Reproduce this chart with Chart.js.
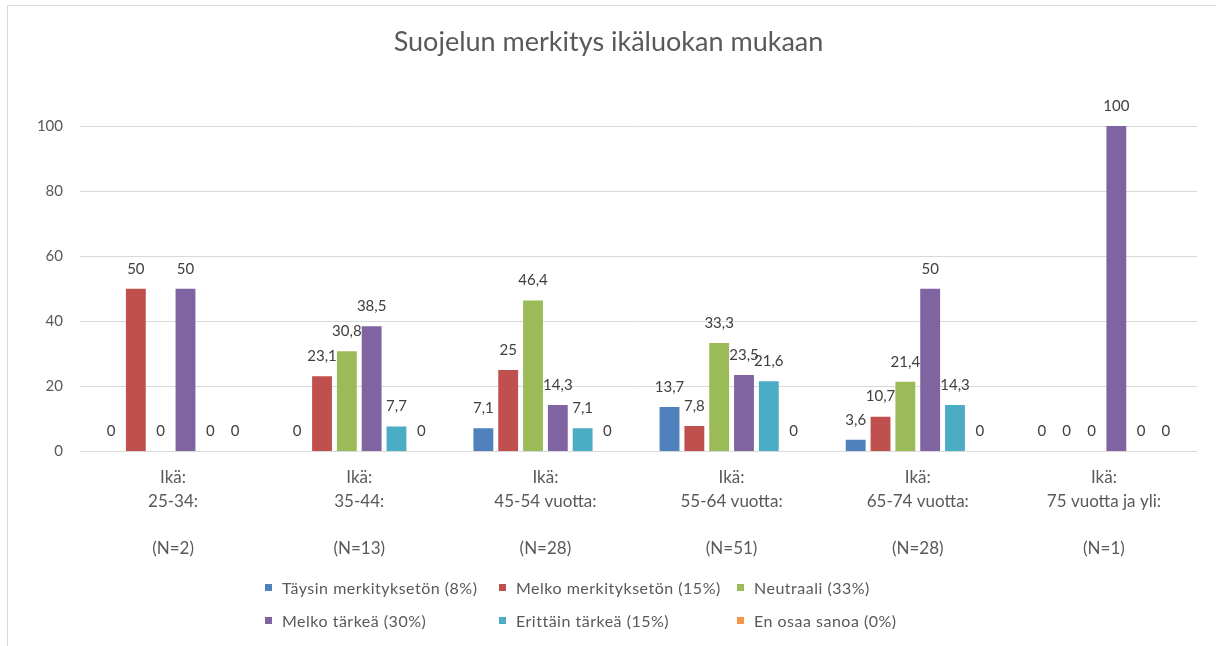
<!DOCTYPE html>
<html>
<head>
<meta charset="utf-8">
<script src="https://cdn.jsdelivr.net/npm/chart.js@4.4.1/dist/chart.umd.min.js"></script>
<style>
  body { margin: 0; background: #fff; }
  #wrap { position: relative; width: 1216px; height: 646px; overflow: hidden; }
  #frame { position: absolute; left: 7px; top: 5px; width: 1220px; height: 660px;
           border-left: 1px solid #d9d9d9; border-top: 1px solid #d9d9d9; }
  #legend { position: absolute; left: 265px; top: 576px; display: grid;
            grid-template-columns: 234px 238px auto; row-gap: 11px;
            font: 16px Lato, sans-serif; letter-spacing: 0.5px; color: #595959; }
  #legend .item { display: flex; align-items: center; height: 22px; white-space: nowrap; }
  #legend .box { width: 7px; height: 7px; margin-right: 10px; }
</style>
</head>
<body>
<div id="wrap">
  <div id="frame"></div>
  <canvas id="myChart" width="1216" height="646"></canvas>
  <div id="legend"></div>
</div>
<script>
// data
const categories = [
  ["Ikä:", "25-34:", "", "(N=2)"],
  ["Ikä:", "35-44:", "", "(N=13)"],
  ["Ikä:", "45-54 vuotta:", "", "(N=28)"],
  ["Ikä:", "55-64 vuotta:", "", "(N=51)"],
  ["Ikä:", "65-74 vuotta:", "", "(N=28)"],
  ["Ikä:", "75 vuotta ja yli:", "", "(N=1)"]
];
const seriesNames = [
  "Täysin merkityksetön (8%)",
  "Melko merkityksetön (15%)",
  "Neutraali (33%)",
  "Melko tärkeä (30%)",
  "Erittäin tärkeä (15%)",
  "En osaa sanoa (0%)"
];
const taysinMerkitykseton = [0, 0, 7.1, 13.7, 3.6, 0];
const melkoMerkitykseton = [50, 23.1, 25, 7.8, 10.7, 0];
const neutraali = [0, 30.8, 46.4, 33.3, 21.4, 0];
const melkoTarkea = [50, 38.5, 14.3, 23.5, 50, 100];
const erittainTarkea = [0, 7.7, 7.1, 21.6, 14.3, 0];
const enOsaaSanoa = [0, 0, 0, 0, 0, 0];
const yTicks = [0, 20, 40, 60, 80, 100];

const colors = ["#4f81bd", "#c0504d", "#9bbb59", "#8064a2", "#4bacc6", "#f79646"];
const seriesValues = [taysinMerkitykseton, melkoMerkitykseton, neutraali, melkoTarkea, erittainTarkea, enOsaaSanoa];

// value labels above bars, finnish decimal comma
const valueLabels = {
  id: "valueLabels",
  afterDatasetsDraw(chart) {
    const ctx = chart.ctx;
    ctx.save();
    ctx.font = "15px Lato, sans-serif";
    ctx.fillStyle = "#404040";
    ctx.textAlign = "center";
    ctx.textBaseline = "middle";
    chart.data.datasets.forEach((ds, i) => {
      chart.getDatasetMeta(i).data.forEach((bar, j) => {
        const txt = String(ds.data[j]).replace(".", ",");
        ctx.fillText(txt, bar.x, bar.y - 20);
      });
    });
    ctx.restore();
  }
};

const ctx = document.getElementById("myChart");

const chart = new Chart(ctx, {
  type: "bar",
  data: {
    labels: categories,
    datasets: seriesNames.map((name, i) => ({
      label: name,
      data: seriesValues[i],
      backgroundColor: colors[i],
      categoryPercentage: 0.8,
      barPercentage: 0.8
    }))
  },
  options: {
    responsive: false,
    animation: false,
    layout: { padding: { top: 26, left: 20, right: 19, bottom: 79 } },
    plugins: {
      legend: { display: false },
      tooltip: { enabled: false },
      title: {
        display: true,
        text: "Suojelun merkitys ikäluokan mukaan",
        color: "#595959",
        font: { family: "Lato", size: 27, weight: "normal" },
        padding: { top: 0, bottom: 67.6 }
      }
    },
    scales: {
      x: {
        grid: { display: false },
        border: { display: false },
        ticks: {
          color: "#595959",
          padding: 6.5,
          autoSkip: false,
          maxRotation: 0,
          font: { family: "Lato", size: 17, lineHeight: 1.39 }
        }
      },
      y: {
        min: 0,
        max: 100,
        afterFit(scale) { scale.width = 60; },
        afterBuildTicks(scale) { scale.ticks = yTicks.map(v => ({ value: v })); },
        grid: { color: "#d9d9d9", drawTicks: false },
        border: { display: false },
        ticks: {
          color: "#595959",
          padding: 17,
          font: { family: "Lato", size: 15 }
        }
      }
    }
  },
  plugins: [valueLabels]
});

// legend laid out in three columns like the original
const legendEl = document.getElementById("legend");
chart.data.datasets.forEach(ds => {
  const item = document.createElement("div");
  item.className = "item";
  const box = document.createElement("span");
  box.className = "box";
  box.style.background = ds.backgroundColor;
  const label = document.createElement("span");
  label.textContent = ds.label;
  item.appendChild(box);
  item.appendChild(label);
  legendEl.appendChild(item);
});
</script>
</body>
</html>
